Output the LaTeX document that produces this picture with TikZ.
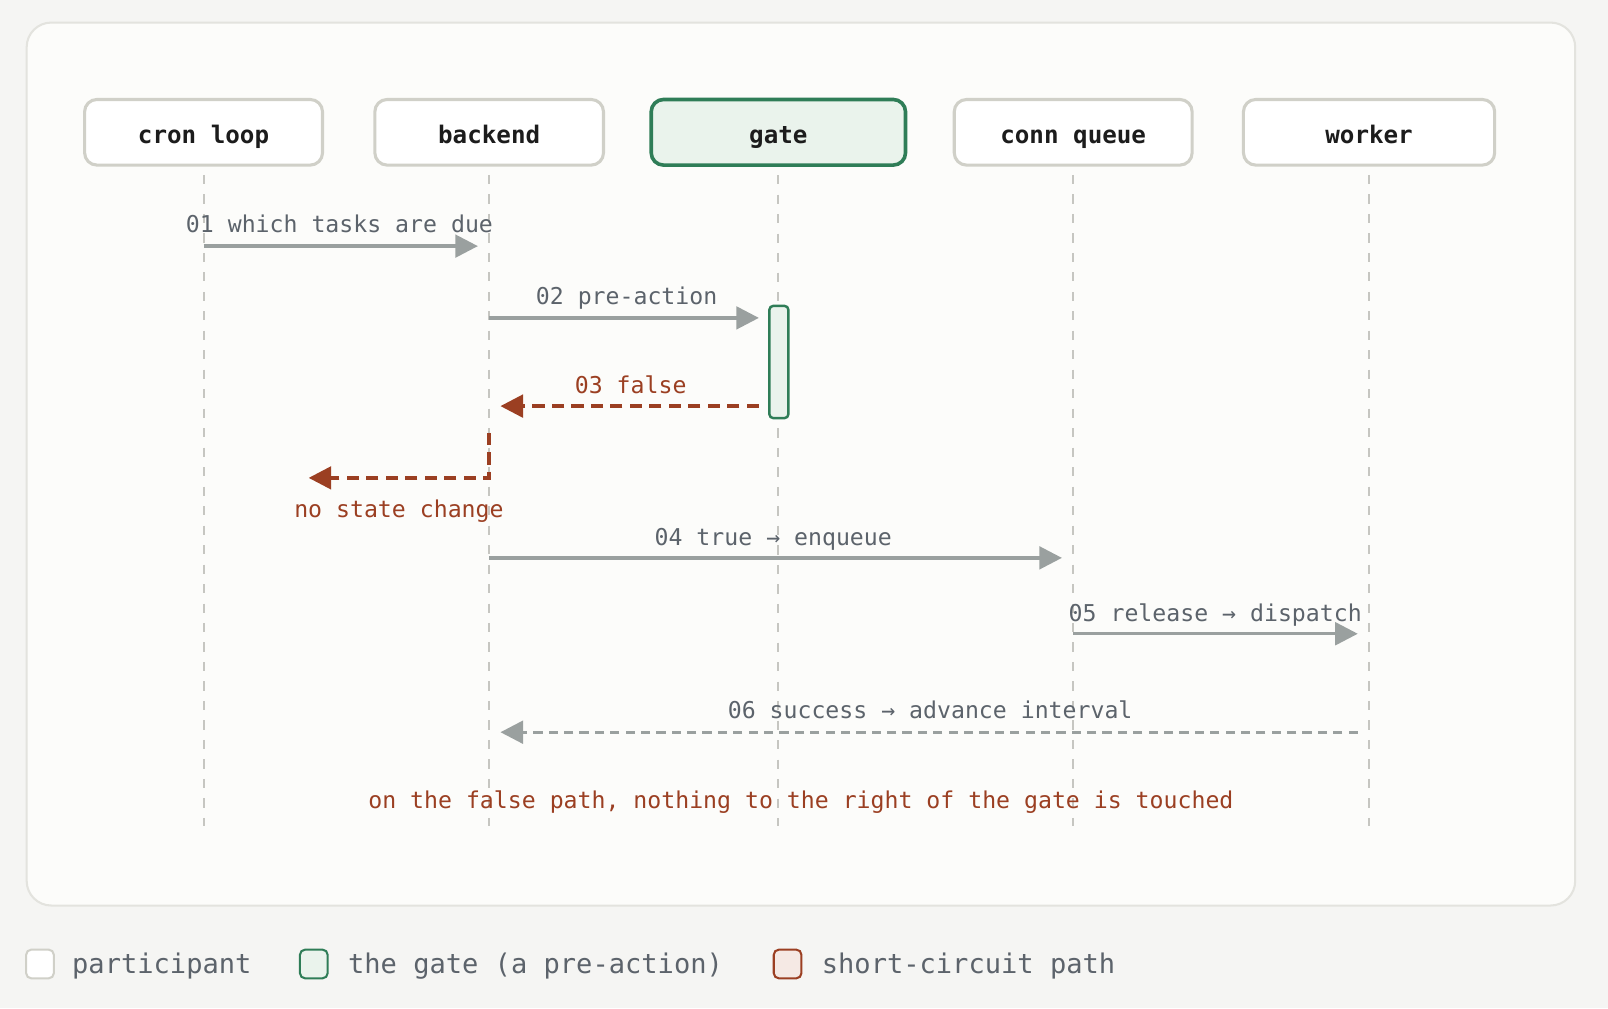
\documentclass[tikz,border=0pt]{standalone}
\usepackage{fontspec}
\setmonofont{DejaVu Sans Mono}
\usetikzlibrary{arrows.meta,positioning}

\definecolor{pagebg}{HTML}{F5F5F3}
\definecolor{panelbg}{HTML}{FCFCFA}
\definecolor{panelline}{HTML}{E3E3DE}
\definecolor{boxline}{HTML}{D0D0C8}
\definecolor{gategreen}{HTML}{2F7D57}
\definecolor{gatefill}{HTML}{EAF3EC}
\definecolor{ink}{HTML}{1C1C1C}
\definecolor{labelgray}{HTML}{5C636B}
\definecolor{arrowgray}{HTML}{9AA09F}
\definecolor{lifegray}{HTML}{C6C6C1}
\definecolor{falsered}{HTML}{9B3F22}
\definecolor{redfill}{HTML}{F5E9E4}

\begin{document}
\begin{tikzpicture}
[x=0.5pt, y=-0.5pt, >={Triangle[length=11pt,width=11pt]},
 participant/.style={draw=boxline, line width=1.5pt, fill=white, rounded corners=6pt,
   minimum height=32pt, inner sep=0pt, text height=12pt, text depth=1pt,
   font=\ttfamily\bfseries\fontsize{11.8}{14}\selectfont, text=ink},
 lifeline/.style={draw=lifegray, line width=1pt, dash pattern=on 4.5pt off 5pt},
 msg/.style={draw=arrowgray, line width=1.6pt, ->},
 reply/.style={msg, dash pattern=on 4.5pt off 3pt},
 shortpath/.style={draw=falsered, line width=1.7pt, dash pattern=on 6pt off 3.5pt, ->},
 lbl/.style={anchor=base, font=\ttfamily\fontsize{11.3}{13}\selectfont, text=labelgray},
 redlbl/.style={lbl, text=falsered},
 key/.style={draw, line width=1pt, rounded corners=2.5pt, minimum width=13.5pt, minimum height=14pt, inner sep=0pt},
 keytext/.style={anchor=base west, inner sep=0pt, font=\ttfamily\fontsize{13.2}{16}\selectfont, text=labelgray}]

% page and panel
\fill[pagebg] (0,0) rectangle (1568,983);
\useasboundingbox (0,0) rectangle (1568,983);
\draw[draw=panelline, fill=panelbg, line width=1pt, rounded corners=12pt] (26,22) rectangle (1536,883);

% participants
\node[participant, minimum width=116pt] (cron) at (198.5,129) {cron loop};
\node[participant, minimum width=111.5pt] (backend) at (477,129) {backend};
\node[participant, minimum width=124pt, draw=gategreen, fill=gatefill, line width=1.75pt] (gate) at (759,129) {gate};
\node[participant, minimum width=116pt] (queue) at (1046.5,129) {conn queue};
\node[participant, minimum width=122.5pt] (worker) at (1335,129) {worker};

% lifelines
\foreach \p in {cron,backend,gate,queue,worker}
  \draw[lifeline] ([yshift=-4pt]\p.south) -- (\p.south |- 0,805);

% activation of the gate
\node[draw=gategreen, fill=gatefill, line width=1.2pt, rounded corners=2pt, inner sep=0pt,
  minimum width=9.3pt, minimum height=54.8pt] (act) at (759.5,353) {};

% messages
\node[lbl] at (331,227) {01 which tasks are due};
\draw[msg, shorten >=5.5pt] (cron |- 0,240) -- (backend |- 0,240);

\node[lbl] at (611,297) {02 pre-action};
\draw[msg, shorten >=4.5pt] (backend |- 0,310) -- (act.west |- 0,310);

\node[redlbl] at (615,384) {03 false};
\draw[shortpath, shorten <=4.5pt, shorten >=5.5pt] (act.west |- 0,396) -- (backend |- 0,396);

\coordinate (nochange) at (301,466);
\draw[shortpath] (backend |- 0,422) -- (backend |- 0,466) -- (nochange);
\node[redlbl] at (389,505) {no state change};

\node[lbl] at (754,532) {04 true → enqueue};
\draw[msg, shorten >=5.5pt] (backend |- 0,544) -- (queue |- 0,544);

\node[lbl] at (1185,606) {05 release → dispatch};
\draw[msg, shorten >=5.5pt] (queue |- 0,618) -- (worker |- 0,618);

\node[lbl] at (907,701) {06 success → advance interval};
\draw[reply, shorten <=5.5pt, shorten >=5.5pt] (worker |- 0,714) -- (backend |- 0,714);

\node[redlbl] at (781,788) {on the false path, nothing to the right of the gate is touched};

% legend
\node[key, draw=boxline, fill=white] (keypart) at (39,940) {};
\node[keytext] at (70,949) {participant};
\node[key, draw=gategreen, fill=gatefill] (keygate) at (306,940) {};
\node[keytext] at (339,949) {the gate (a pre-action)};
\node[key, draw=falsered, fill=redfill] (keyshort) at (768,940) {};
\node[keytext] at (801,949) {short-circuit path};
\end{tikzpicture}
\end{document}
